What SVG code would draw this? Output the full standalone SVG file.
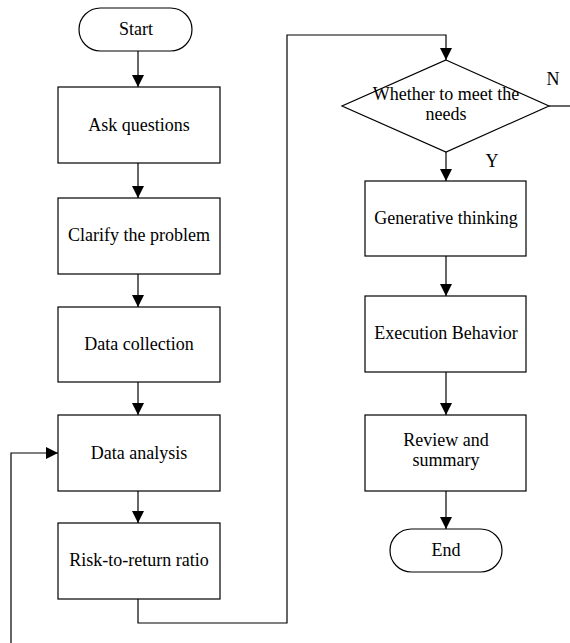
<svg xmlns="http://www.w3.org/2000/svg" width="570" height="643" viewBox="0 0 570 643">
  <style>
    .shape { fill: #ffffff; stroke: #000000; stroke-width: 1.2; }
    .line { fill: none; stroke: #000000; stroke-width: 1.2; }
    .label { font-family: 'Liberation Serif', 'Times New Roman', serif; font-size: 18px; fill: #000000; text-anchor: middle; }
  </style>
  <defs>
    <marker id="arrow" viewBox="0 0 12 12" refX="12" refY="6" markerWidth="12" markerHeight="12" markerUnits="userSpaceOnUse" orient="auto">
      <path d="M0,0 L12,6 L0,12 Z" fill="#000000"/>
    </marker>
  </defs>
  <rect width="570" height="643" fill="#ffffff"/>

  <g id="connectors">
    <line class="line" x1="138" y1="51" x2="138" y2="87" marker-end="url(#arrow)"/>
    <line class="line" x1="138" y1="163" x2="138" y2="198" marker-end="url(#arrow)"/>
    <line class="line" x1="138" y1="274" x2="138" y2="307" marker-end="url(#arrow)"/>
    <line class="line" x1="138" y1="382" x2="138" y2="415" marker-end="url(#arrow)"/>
    <line class="line" x1="138" y1="491" x2="138" y2="523" marker-end="url(#arrow)"/>
    <polyline class="line" points="138,599 138,623 287,623 287,35 446,35 446,60" marker-end="url(#arrow)"/>
    <line class="line" x1="446" y1="152" x2="446" y2="181" marker-end="url(#arrow)"/>
    <line class="line" x1="446" y1="256" x2="446" y2="296" marker-end="url(#arrow)"/>
    <line class="line" x1="446" y1="372" x2="446" y2="415" marker-end="url(#arrow)"/>
    <line class="line" x1="446" y1="491" x2="446" y2="529" marker-end="url(#arrow)"/>
    <line class="line" x1="549" y1="106" x2="570" y2="106"/>
    <polyline class="line" points="11,643 11,453 58,453" marker-end="url(#arrow)"/>
    <text class="label" x="553" y="85">N</text>
    <text class="label" x="492" y="167">Y</text>
  </g>

  <g id="start">
    <rect class="shape" x="79" y="8" width="113" height="43" rx="21.5" ry="21.5"/>
    <text class="label" x="136" y="35">Start</text>
  </g>
  <g id="ask-questions">
    <rect class="shape" x="58" y="87" width="162" height="76"/>
    <text class="label" x="139" y="131">Ask questions</text>
  </g>
  <g id="clarify-problem">
    <rect class="shape" x="58" y="198" width="162" height="76"/>
    <text class="label" x="139" y="241">Clarify the problem</text>
  </g>
  <g id="data-collection">
    <rect class="shape" x="58" y="307" width="162" height="75"/>
    <text class="label" x="139" y="350">Data collection</text>
  </g>
  <g id="data-analysis">
    <rect class="shape" x="58" y="415" width="162" height="76"/>
    <text class="label" x="139" y="459">Data analysis</text>
  </g>
  <g id="risk-return">
    <rect class="shape" x="58" y="523" width="162" height="76"/>
    <text class="label" x="139" y="566">Risk-to-return ratio</text>
  </g>
  <g id="meet-needs">
    <polygon class="shape" points="446,60 549,106 446,152 342,106"/>
    <text class="label" x="446" y="100">Whether to meet the</text>
    <text class="label" x="446" y="120">needs</text>
  </g>
  <g id="generative-thinking">
    <rect class="shape" x="365" y="181" width="161" height="75"/>
    <text class="label" x="446" y="224">Generative thinking</text>
  </g>
  <g id="execution-behavior">
    <rect class="shape" x="365" y="296" width="161" height="76"/>
    <text class="label" x="446" y="339">Execution Behavior</text>
  </g>
  <g id="review-summary">
    <rect class="shape" x="365" y="415" width="161" height="76"/>
    <text class="label" x="446" y="446">Review and</text>
    <text class="label" x="446" y="466">summary</text>
  </g>
  <g id="end">
    <rect class="shape" x="390" y="529" width="112" height="43" rx="21.5" ry="21.5"/>
    <text class="label" x="446" y="556">End</text>
  </g>
</svg>
